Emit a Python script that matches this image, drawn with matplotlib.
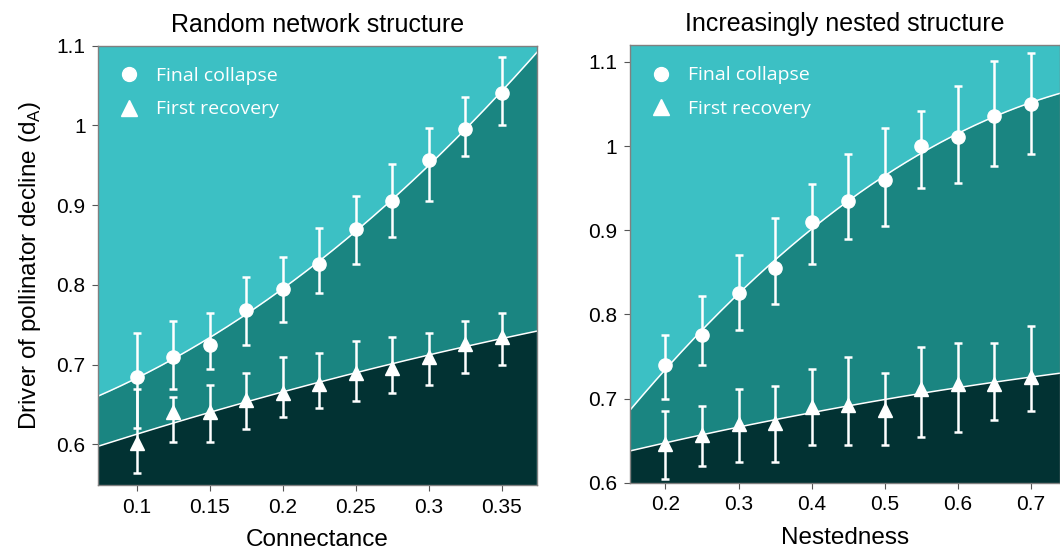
import numpy as np
import matplotlib.pyplot as plt
from matplotlib.lines import Line2D
from matplotlib.ticker import FuncFormatter

plt.rcParams['font.family'] = ['Liberation Sans', 'DejaVu Sans']

# Random network structure (left)
conn = [0.1, 0.125, 0.15, 0.175, 0.2, 0.225, 0.25, 0.275, 0.3, 0.325, 0.35]
coll_l = [0.685, 0.71, 0.724, 0.769, 0.795, 0.826, 0.87, 0.905, 0.956, 0.995, 1.04]
coll_l_lo = [0.62, 0.67, 0.694, 0.725, 0.754, 0.79, 0.826, 0.86, 0.905, 0.961, 1.0]
coll_l_hi = [0.74, 0.755, 0.765, 0.81, 0.835, 0.871, 0.911, 0.951, 0.996, 1.035, 1.085]
rec_l = [0.602, 0.64, 0.64, 0.656, 0.665, 0.676, 0.69, 0.696, 0.71, 0.726, 0.734]
rec_l_lo = [0.564, 0.603, 0.603, 0.619, 0.634, 0.645, 0.655, 0.664, 0.674, 0.69, 0.699]
rec_l_hi = [0.67, 0.66, 0.674, 0.689, 0.71, 0.715, 0.73, 0.735, 0.74, 0.755, 0.765]

# Increasingly nested structure (right)
nest = [0.2, 0.25, 0.3, 0.35, 0.4, 0.45, 0.5, 0.55, 0.6, 0.65, 0.7]
coll_r = [0.74, 0.776, 0.826, 0.855, 0.91, 0.935, 0.96, 1.0, 1.011, 1.036, 1.05]
coll_r_lo = [0.70, 0.74, 0.781, 0.812, 0.86, 0.89, 0.905, 0.95, 0.956, 0.976, 0.99]
coll_r_hi = [0.776, 0.822, 0.871, 0.915, 0.955, 0.99, 1.021, 1.041, 1.071, 1.101, 1.111]
rec_r = [0.646, 0.657, 0.67, 0.671, 0.69, 0.692, 0.686, 0.712, 0.717, 0.717, 0.726]
rec_r_lo = [0.604, 0.62, 0.625, 0.625, 0.645, 0.645, 0.645, 0.655, 0.66, 0.675, 0.685]
rec_r_hi = [0.685, 0.691, 0.711, 0.715, 0.735, 0.75, 0.73, 0.761, 0.766, 0.766, 0.786]

light = '#3cc0c4'
mid = '#1a8581'
dark = '#023233'
edge = '#808080'

fig = plt.figure(figsize=(10.6, 5.55), dpi=100)
ax1 = fig.add_axes([0.0925, 0.126, 0.414, 0.792])
ax2 = fig.add_axes([0.594, 0.13, 0.406, 0.789])


def panel(ax, x, c, clo, chi, r, rlo, rhi, xlim, ylim, xticks, yticks, title, xlabel):
    x = np.array(x)
    c, r = np.array(c), np.array(r)
    xs = np.linspace(xlim[0], xlim[1], 300)
    up = np.polyval(np.polyfit(x, c, 2), xs)
    lo = np.polyval(np.polyfit(x, r, 2), xs)
    ax.set_facecolor(light)
    ax.fill_between(xs, lo, up, color=mid, lw=0)
    ax.fill_between(xs, ylim[0] - 1, lo, color=dark, lw=0)
    ax.plot(xs, up, color='white', lw=1.1)
    ax.plot(xs, lo, color='white', lw=1.1)

    ax.errorbar(x, c, yerr=[c - np.array(clo), np.array(chi) - c], fmt='o', color='white',
                ms=9.5, elinewidth=1.8, capsize=2.6, capthick=1.8)
    ax.errorbar(x, r, yerr=[r - np.array(rlo), np.array(rhi) - r], fmt='^', color='white',
                ms=10, elinewidth=1.8, capsize=2.6, capthick=1.8)

    ax.set_xlim(xlim)
    ax.set_ylim(ylim)
    ax.set_xticks(xticks)
    ax.set_yticks(yticks)
    fmt = FuncFormatter(lambda v, p: '{:g}'.format(round(v, 3)))
    ax.xaxis.set_major_formatter(fmt)
    ax.yaxis.set_major_formatter(fmt)
    ax.tick_params(direction='out', length=4, color='#555555', labelsize=15, pad=5)
    for s in ax.spines.values():
        s.set_color(edge)
        s.set_linewidth(1)
    ax.set_title(title, fontsize=18, pad=10)
    ax.set_xlabel(xlabel, fontsize=17.5, labelpad=9)

    handles = [Line2D([], [], marker='o', ls='', color='white', ms=10),
               Line2D([], [], marker='^', ls='', color='white', ms=11)]
    ax.legend(handles, ['Final collapse', 'First recovery'], loc='upper left',
              frameon=False, labelcolor='white', prop={'family': 'Open Sans', 'size': 14},
              handlelength=1.0, handletextpad=0.9, labelspacing=0.8, borderaxespad=0.7)


panel(ax1, conn, coll_l, coll_l_lo, coll_l_hi, rec_l, rec_l_lo, rec_l_hi,
      (0.0735, 0.374), (0.549, 1.1), [0.1, 0.15, 0.2, 0.25, 0.3, 0.35],
      [0.6, 0.7, 0.8, 0.9, 1.0, 1.1], 'Random network structure', 'Connectance')
panel(ax2, nest, coll_r, coll_r_lo, coll_r_hi, rec_r, rec_r_lo, rec_r_hi,
      (0.151, 0.74), (0.6, 1.12), [0.2, 0.3, 0.4, 0.5, 0.6, 0.7],
      [0.6, 0.7, 0.8, 0.9, 1.0, 1.1], 'Increasingly nested structure', 'Nestedness')

ax1.set_ylabel('Driver of pollinator decline (d$_\\mathregular{A}$)', fontsize=17.5, labelpad=10)

fig.savefig('out.png', dpi=100)
